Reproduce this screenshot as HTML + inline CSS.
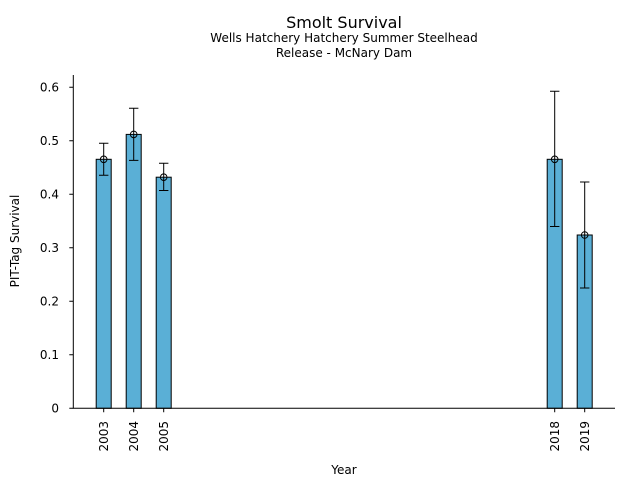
<!DOCTYPE html>
<html><head><style>body{margin:0;background:#fff}svg{display:block}</style></head><body>
<svg width="640" height="480" xmlns="http://www.w3.org/2000/svg" font-family="DejaVu Sans, Liberation Sans, sans-serif">
<rect width="640" height="480" fill="#fff"/>
<text x="344" y="28" font-size="16" text-anchor="middle">Smolt Survival</text>
<text x="344" y="42" font-size="12" text-anchor="middle">Wells Hatchery Hatchery Summer Steelhead</text>
<text x="344" y="57" font-size="12" text-anchor="middle">Release - McNary Dam</text>
<g stroke="#000" stroke-width="1" fill="#5aafd6">
<rect x="96.2" y="159.3" width="15" height="249"/>
<rect x="126.2" y="134.4" width="15" height="273.9"/>
<rect x="156.2" y="177.2" width="15" height="231.1"/>
<rect x="547.2" y="159.3" width="15" height="249"/>
<rect x="577.2" y="235" width="15" height="173.3"/>
</g>
<g stroke="#000" stroke-width="1" fill="none">
<path d="M103.7 143.3V175.3M99 143.3h9.4M99 175.3h9.4"/>
<path d="M133.7 108.2V160.4M129 108.2h9.4M129 160.4h9.4"/>
<path d="M163.7 163.3V190.5M159 163.3h9.4M159 190.5h9.4"/>
<path d="M554.7 91.3V226.5M550 91.3h9.4M550 226.5h9.4"/>
<path d="M584.7 182V288M580 182h9.4M580 288h9.4"/>
<circle cx="103.7" cy="159.3" r="3.3"/><circle cx="133.7" cy="134.4" r="3.3"/><circle cx="163.7" cy="177.2" r="3.3"/><circle cx="554.7" cy="159.3" r="3.3"/><circle cx="584.7" cy="235" r="3.3"/>
<path d="M73.3 75V408.3H615"/>
<path d="M73.3 408.3h-4M73.3 354.8h-4M73.3 301.3h-4M73.3 247.8h-4M73.3 194.3h-4M73.3 140.8h-4M73.3 87.3h-4"/>
<path d="M103.7 408.3v4M133.7 408.3v4M163.7 408.3v4M554.7 408.3v4M584.7 408.3v4"/>
</g>
<g font-size="12" text-anchor="end">
<text x="59" y="412.5">0</text><text x="59" y="359">0.1</text><text x="59" y="305.5">0.2</text><text x="59" y="252">0.3</text><text x="59" y="198.5">0.4</text><text x="59" y="145">0.5</text><text x="59" y="91.5">0.6</text>
</g>
<g font-size="12" text-anchor="end">
<text transform="translate(108,421) rotate(-90)">2003</text>
<text transform="translate(138,421) rotate(-90)">2004</text>
<text transform="translate(168,421) rotate(-90)">2005</text>
<text transform="translate(559,421) rotate(-90)">2018</text>
<text transform="translate(589,421) rotate(-90)">2019</text>
</g>
<text x="344" y="474" font-size="12" text-anchor="middle">Year</text>
<text transform="translate(19,241) rotate(-90)" font-size="12" text-anchor="middle">PIT-Tag Survival</text>
</svg>
</body></html>
